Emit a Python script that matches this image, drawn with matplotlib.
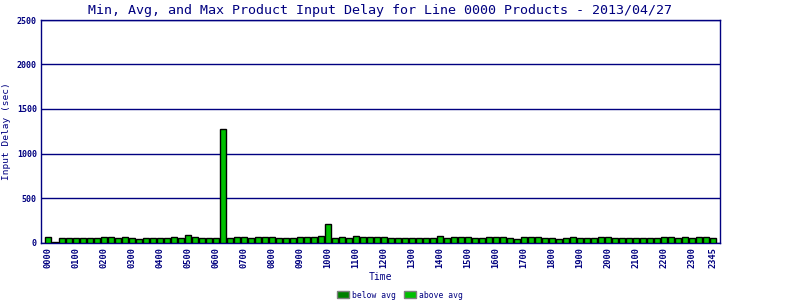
import matplotlib
matplotlib.use("Agg")
import matplotlib.pyplot as plt
from matplotlib.patches import Patch

# 15-minute time slots
times = [f"{h:02d}{m:02d}" for h in range(24) for m in (0, 15, 30, 45)]
delays = [60, 11, 49, 49, 49, 49, 49, 49, 60, 60, 49, 60, 49, 37, 49, 49,
          49, 49, 60, 49, 82, 60, 49, 49, 49, 1278, 49, 60, 60, 49, 60, 60,
          60, 49, 49, 49, 60, 60, 60, 71, 213, 49, 60, 49, 71, 60, 60, 60,
          60, 49, 49, 49, 49, 49, 49, 49, 71, 49, 60, 60, 60, 49, 49, 60,
          60, 60, 49, 37, 60, 60, 60, 49, 49, 37, 49, 60, 49, 49, 49, 60,
          60, 49, 49, 49, 49, 49, 49, 49, 60, 60, 49, 60, 49, 60, 60, 49]
tick_labels = ["0000", "0100", "0200", "0300", "0400", "0500", "0600", "0700",
               "0800", "0900", "1000", "1100", "1200", "1300", "1400", "1500",
               "1600", "1700", "1800", "1900", "2000", "2100", "2200", "2300", "2345"]
y_ticks = [0, 500, 1000, 1500, 2000, 2500]

navy = "#000080"
above = "#00C000"
below = "#008000"
mono = "DejaVu Sans Mono"

fig = plt.figure(figsize=(8, 3), dpi=100)
ax = fig.add_axes([41/800, 1 - 242.5/300, 679/800, 222.5/300])

x = list(range(len(times)))
ax.bar(x, delays, width=0.8, color=above, edgecolor="black", linewidth=1.0, zorder=3)

ax.set_xlim(-1, len(times))
ax.set_ylim(0, 2500)
ax.set_yticks(y_ticks)
ax.set_yticklabels([str(v) for v in y_ticks], fontfamily=mono, fontsize=6,
                   fontweight="bold", color=navy)
ax.yaxis.grid(True, color=navy, linewidth=1.0, zorder=1)
ax.set_axisbelow(True)

tick_pos = [times.index(t) for t in tick_labels]
ax.set_xticks(tick_pos)
ax.set_xticklabels(tick_labels, rotation=90, fontfamily=mono, fontsize=6.2,
                   fontweight="bold", color=navy)
ax.tick_params(axis="both", length=0, pad=3)

for s in ax.spines.values():
    s.set_color(navy)
    s.set_linewidth(1.0)

ax.set_title("Min, Avg, and Max Product Input Delay for Line 0000 Products - 2013/04/27",
             fontfamily=mono, fontsize=9.6, color=navy, pad=4)
ax.set_ylabel("Input Delay (sec)", fontfamily=mono, fontsize=6.8, color=navy, labelpad=4)
ax.set_xlabel("Time", fontfamily=mono, fontsize=7, color=navy, labelpad=3)

handles = [Patch(facecolor=below, edgecolor="#808080", linewidth=1.0, label="below avg"),
           Patch(facecolor=above, edgecolor="#808080", linewidth=1.0, label="above avg")]
leg = fig.legend(handles=handles, loc="center", bbox_to_anchor=(0.5, 1 - 295/300),
                 ncol=2, frameon=False, prop={"family": mono, "size": 5.8},
                 handlelength=1.5, handleheight=0.9, columnspacing=1.0, handletextpad=0.4)
for t in leg.get_texts():
    t.set_color(navy)

fig.savefig("out.png", dpi=100, facecolor="white")
